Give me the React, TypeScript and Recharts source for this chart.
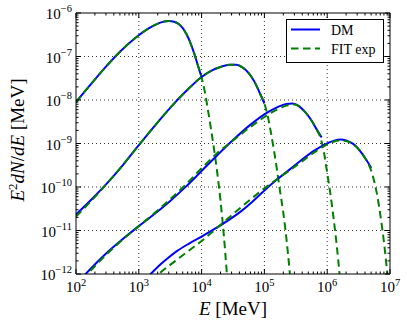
import React from 'react';
import { LineChart, Line, XAxis, YAxis, ReferenceLine, Legend } from 'recharts';

// ---------- data (log-log axes) ----------
const dm1E = [100, 144.5, 208.9, 295.1, 426.6, 631, 1000, 1413, 1862, 2399, 3020, 3631, 4365, 5012, 5754, 6607, 7586, 8710, 10000];
const dm1F = [8.91e-9, 1.7e-8, 3.2e-8, 5.68e-8, 1.01e-7, 1.76e-7, 3.08e-7, 4.36e-7, 5.43e-7, 6.25e-7, 6.53e-7, 6.31e-7, 5.5e-7, 4.47e-7, 3.24e-7, 2.09e-7, 1.2e-7, 6.31e-8, 3.31e-8];

const fit1E = [100, 144.5, 208.9, 295.1, 426.6, 631, 1000, 1413, 1862, 2399, 3020, 3631, 4365, 5012, 5754, 6607, 7586, 8710, 10000, 11220, 12590, 14130, 15850, 17780, 19950, 22390, 25120, 28180];
const fit1F = [8.91e-9, 1.7e-8, 3.2e-8, 5.68e-8, 1.01e-7, 1.76e-7, 3.08e-7, 4.36e-7, 5.43e-7, 6.25e-7, 6.53e-7, 6.31e-7, 5.5e-7, 4.47e-7, 3.24e-7, 2.09e-7, 1.2e-7, 6.31e-8, 3.31e-8, 1.58e-8, 6.03e-9, 2.14e-9, 7.08e-10, 2.09e-10, 5.01e-11, 8.91e-12, 1.12e-12, 1.0e-13];

const dm2E = [100, 177.8, 316.2, 562.3, 1000, 1778, 3162, 5623, 10000, 14130, 19950, 28180, 35480, 44670, 56230, 70790, 85110, 100000];
const dm2F = [2.34e-11, 5.25e-11, 1.245e-10, 3.24e-10, 9.12e-10, 2.51e-9, 6.61e-9, 1.585e-8, 3.39e-8, 4.68e-8, 5.75e-8, 6.46e-8, 6.46e-8, 5.62e-8, 4.17e-8, 2.51e-8, 1.41e-8, 8.3e-9];

const fit2E = [100, 177.8, 316.2, 562.3, 1000, 1778, 3162, 5623, 10000, 14130, 19950, 28180, 35480, 44670, 56230, 70790, 85110, 100000, 112200, 125900, 141300, 158500, 177800, 199500, 223900, 251200, 281800];
const fit2F = [2.09e-11, 4.9e-11, 1.23e-10, 3.24e-10, 9.12e-10, 2.51e-9, 6.61e-9, 1.585e-8, 3.39e-8, 4.68e-8, 5.75e-8, 6.46e-8, 6.46e-8, 5.62e-8, 4.17e-8, 2.51e-8, 1.41e-8, 8.3e-9, 4.47e-9, 1.91e-9, 7.24e-10, 2.51e-10, 7.94e-11, 2.63e-11, 6.61e-12, 1.26e-12, 1.78e-13];

const dm3E = [125.9, 199.5, 316.2, 562.3, 1000, 1778, 3162, 5623, 10000, 17780, 31620, 56230, 100000, 158500, 223900, 281800, 354800, 446700, 562300, 676100, 812800];
const dm3F = [8.3e-13, 1.66e-12, 3.16e-12, 6.46e-12, 1.26e-11, 2.4e-11, 4.79e-11, 1.02e-10, 2.34e-10, 5.37e-10, 1.2e-9, 2.51e-9, 4.68e-9, 6.76e-9, 8.13e-9, 8.32e-9, 7.24e-9, 5.25e-9, 3.39e-9, 2.14e-9, 1.38e-9];

const fit3E = [125.9, 199.5, 316.2, 562.3, 1000, 1778, 3162, 5623, 10000, 17780, 31620, 56230, 100000, 158500, 223900, 281800, 354800, 446700, 562300, 676100, 794300, 891300, 1000000, 1122000, 1259000, 1413000, 1585000, 1778000];
const fit3F = [7.41e-13, 1.51e-12, 2.95e-12, 6.31e-12, 1.26e-11, 2.51e-11, 5.25e-11, 1.15e-10, 2.69e-10, 6.03e-10, 1.17e-9, 2.24e-9, 4.07e-9, 6.03e-9, 7.41e-9, 7.94e-9, 7.24e-9, 5.25e-9, 3.39e-9, 2.14e-9, 1.26e-9, 6.03e-10, 2.09e-10, 7.08e-11, 2.0e-11, 4.79e-12, 8.91e-13, 1.26e-13];

const dm4E = [1413, 1995, 2818, 3981, 6310, 10000, 15850, 25120, 39810, 63100, 100000, 158500, 251200, 398100, 631000, 891300, 1259000, 1660000, 2188000, 2818000, 3548000, 4169000, 5012000];
const dm4F = [8.7e-13, 1.45e-12, 2.24e-12, 3.31e-12, 5.01e-12, 7.24e-12, 1.07e-11, 1.62e-11, 2.57e-11, 4.47e-11, 8.32e-11, 1.48e-10, 2.51e-10, 4.27e-10, 6.92e-10, 9.33e-10, 1.15e-9, 1.23e-9, 1.12e-9, 8.91e-10, 6.03e-10, 4.27e-10, 2.75e-10];

const fit4E = [1585, 2239, 3162, 3981, 6310, 10000, 15850, 25120, 39810, 63100, 100000, 158500, 251200, 398100, 631000, 891300, 1259000, 1660000, 2188000, 2818000, 3548000, 4169000, 5012000, 5623000, 6310000, 7079000, 7943000, 8913000, 10000000];
const fit4F = [6.92e-13, 1.1e-12, 1.62e-12, 2.09e-12, 3.47e-12, 5.75e-12, 1.0e-11, 1.78e-11, 3.16e-11, 5.5e-11, 9.33e-11, 1.51e-10, 2.4e-10, 3.89e-10, 6.31e-10, 8.71e-10, 1.1e-9, 1.17e-9, 1.1e-9, 8.71e-10, 6.03e-10, 4.17e-10, 2.4e-10, 1.32e-10, 6.03e-11, 2.09e-11, 6.03e-12, 1.32e-12, 2.51e-13];

// ---------- axes / tick labels ----------
const xMajorTicks = [1e2, 1e3, 1e4, 1e5, 1e6, 1e7];
const xTickExponents = ['2', '3', '4', '5', '6', '7'];
const yMajorTicks = [1e-12, 1e-11, 1e-10, 1e-9, 1e-8, 1e-7, 1e-6];
const yTickExponents = ['\u221212', '\u221211', '\u221210', '\u22129', '\u22128', '\u22127', '\u22126'];
const xGrid = [1e3, 1e4, 1e5, 1e6];
const yGrid = [1e-11, 1e-10, 1e-9, 1e-8, 1e-7];
const seriesNames = ['DM', 'FIT exp'];

const DM_COLOR = '#0000ff';
const FIT_COLOR = '#008000';
const DASH = '7.5 4.5';
const FONT = '"Liberation Serif", "DejaVu Serif", serif';

const withMinors = (majors: number[]) => {
  const out: number[] = [];
  for (let i = 0; i < majors.length; i++) {
    out.push(majors[i]);
    if (i < majors.length - 1) for (let k = 2; k <= 9; k++) out.push(majors[i] * k);
  }
  return out;
};
const xTicks = withMinors(xMajorTicks);
const yTicks = withMinors(yMajorTicks);

const toPts = (e: number[], f: number[]) => e.map((v, i) => ({ e: v, f: f[i] }));

const majorIndex = (v: number, majors: number[]) =>
  majors.findIndex((m) => Math.abs(Math.log10(m) - Math.log10(v)) < 1e-6);

const MAJ = 5;
const MIN = 2.5;

const BottomTick = (p: any) => {
  const { x, y, payload } = p;
  const idx = majorIndex(payload.value, xMajorTicks);
  const len = idx >= 0 ? MAJ : MIN;
  return (
    <g>
      <line x1={x} x2={x} y1={y} y2={y - len} stroke="#000" strokeWidth={1} />
      {idx >= 0 && (
        <text x={x} y={y + 18} textAnchor="middle" fontFamily={FONT} fontSize={15} fill="#000">
          10<tspan dy={-6} fontSize={10.5}>{xTickExponents[idx]}</tspan>
        </text>
      )}
    </g>
  );
};
const TopTick = (p: any) => {
  const { x, y, payload } = p;
  const idx = majorIndex(payload.value, xMajorTicks);
  const len = idx >= 0 ? MAJ : MIN;
  return <line x1={x} x2={x} y1={y} y2={y + len} stroke="#000" strokeWidth={1} />;
};
const LeftTick = (p: any) => {
  const { x, y, payload } = p;
  const idx = majorIndex(payload.value, yMajorTicks);
  const len = idx >= 0 ? MAJ : MIN;
  return (
    <g>
      <line x1={x} x2={x + len} y1={y} y2={y} stroke="#000" strokeWidth={1} />
      {idx >= 0 && (
        <text x={x - 4} y={y + 6} textAnchor="end" fontFamily={FONT} fontSize={15} fill="#000">
          10<tspan dy={-7} fontSize={10.5}>{yTickExponents[idx]}</tspan>
        </text>
      )}
    </g>
  );
};
const RightTick = (p: any) => {
  const { x, y, payload } = p;
  const idx = majorIndex(payload.value, yMajorTicks);
  const len = idx >= 0 ? MAJ : MIN;
  return <line x1={x} x2={x - len} y1={y} y2={y} stroke="#000" strokeWidth={1} />;
};

const XLabel = () => (
  <text x={233} y={315} textAnchor="middle" fontFamily={FONT} fontSize={19} fill="#000">
    <tspan fontStyle="italic">E</tspan> [MeV]
  </text>
);
const YLabel = () => (
  <text transform="translate(24,140) rotate(-90)" textAnchor="middle" fontFamily={FONT} fontSize={19} fill="#000">
    <tspan fontStyle="italic">E</tspan>
    <tspan dy={-7} fontSize={13}>2</tspan>
    <tspan dy={7} fontStyle="italic">dN</tspan>/<tspan fontStyle="italic">dE</tspan> [MeV]
  </text>
);

const LegendBox = () => (
  <svg width={99} height={45} style={{ display: 'block', overflow: 'visible' }}>
    <rect x={0.5} y={0.5} width={97} height={43} fill="#fff" stroke="#000" strokeWidth={1} />
    <line x1={5} x2={34} y1={10.5} y2={10.5} stroke={DM_COLOR} strokeWidth={2} />
    <text x={45} y={15.5} fontFamily={FONT} fontSize={14} fill="#000">{seriesNames[0]}</text>
    <line x1={5} x2={34} y1={29.5} y2={29.5} stroke={FIT_COLOR} strokeWidth={2} strokeDasharray={DASH} />
    <text x={45} y={34.5} fontFamily={FONT} fontSize={14} fill="#000">{seriesNames[1]}</text>
  </svg>
);

const series = [
  { key: 'dm1', data: toPts(dm1E, dm1F), fit: false },
  { key: 'fit1', data: toPts(fit1E, fit1F), fit: true },
  { key: 'dm2', data: toPts(dm2E, dm2F), fit: false },
  { key: 'fit2', data: toPts(fit2E, fit2F), fit: true },
  { key: 'dm3', data: toPts(dm3E, dm3F), fit: false },
  { key: 'fit3', data: toPts(fit3E, fit3F), fit: true },
  { key: 'dm4', data: toPts(dm4E, dm4F), fit: false },
  { key: 'fit4', data: toPts(fit4E, fit4F), fit: true },
];

const axisLine = { stroke: '#000', strokeWidth: 1 };

export default function App() {
  return (
    <div style={{ position: 'absolute', left: 0, top: 0, width: 407, height: 326, background: '#fff' }}>
      <LineChart width={407} height={326} margin={{ top: 12, right: 16, bottom: 51, left: 75 }}>
        <XAxis
          xAxisId="bottom"
          dataKey="e"
          type="number"
          scale="log"
          domain={[1e2, 1e7]}
          allowDataOverflow
          ticks={xTicks}
          interval={0}
          height={1}
          tickSize={0}
          tickMargin={0}
          tickLine={false}
          axisLine={axisLine}
          tick={BottomTick}
          label={XLabel}
        />
        <XAxis
          xAxisId="top"
          orientation="top"
          dataKey="e"
          type="number"
          scale="log"
          domain={[1e2, 1e7]}
          allowDataOverflow
          ticks={xTicks}
          interval={0}
          height={1}
          tickSize={0}
          tickMargin={0}
          tickLine={false}
          axisLine={axisLine}
          tick={TopTick}
        />
        <YAxis
          yAxisId="left"
          type="number"
          scale="log"
          domain={[1e-12, 1e-6]}
          allowDataOverflow
          ticks={yTicks}
          interval={0}
          width={1}
          tickSize={0}
          tickMargin={0}
          tickLine={false}
          axisLine={axisLine}
          tick={LeftTick}
          label={YLabel}
        />
        <YAxis
          yAxisId="right"
          orientation="right"
          type="number"
          scale="log"
          domain={[1e-12, 1e-6]}
          allowDataOverflow
          ticks={yTicks}
          interval={0}
          width={1}
          tickSize={0}
          tickMargin={0}
          tickLine={false}
          axisLine={axisLine}
          tick={RightTick}
        />
        {xGrid.map((v) => (
          <ReferenceLine key={'gx' + v} xAxisId="bottom" yAxisId="left" x={v} stroke="#333" strokeWidth={1} strokeDasharray="1 3" />
        ))}
        {yGrid.map((v) => (
          <ReferenceLine key={'gy' + v} xAxisId="bottom" yAxisId="left" y={v} stroke="#333" strokeWidth={1} strokeDasharray="1 3" />
        ))}
        {series.map((s) => (
          <Line
            key={s.key}
            xAxisId="bottom"
            yAxisId="left"
            data={s.data}
            dataKey="f"
            name={s.fit ? seriesNames[1] : seriesNames[0]}
            type="monotone"
            stroke={s.fit ? FIT_COLOR : DM_COLOR}
            strokeWidth={2}
            strokeDasharray={s.fit ? DASH : undefined}
            dot={false}
            activeDot={false}
            isAnimationActive={false}
          />
        ))}
        <Legend
          layout="vertical"
          align="center"
          verticalAlign="middle"
          content={LegendBox}
          wrapperStyle={{ position: 'absolute', left: 286, top: 19, width: 99, height: 45 }}
        />
      </LineChart>
    </div>
  );
}
